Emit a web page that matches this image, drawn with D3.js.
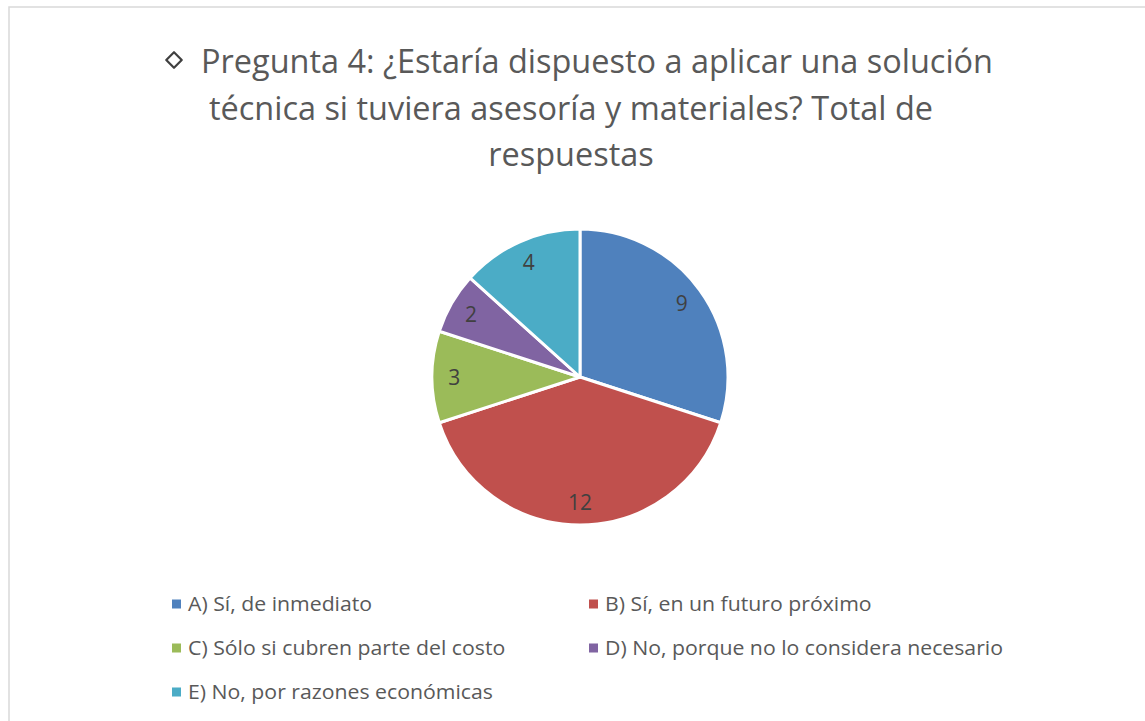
<!DOCTYPE html>
<html>
<head>
<meta charset="utf-8">
<script src="https://cdn.jsdelivr.net/npm/d3@7"></script>
<style>
  body { margin: 0; background: #fff; }
  svg { display: block; }
</style>
</head>
<body>
<div id="chart"></div>
<script>
const width = 1145;
const height = 721;

// data
const categories = [
  'A) Sí, de inmediato',
  'B) Sí, en un futuro próximo',
  'C) Sólo si cubren parte del costo',
  'D) No, porque no lo considera necesario',
  'E) No, por razones económicas'
];
const values = [9, 12, 3, 2, 4];
const colors = ['#4F81BD', '#C0504D', '#9BBB59', '#8064A2', '#4BACC6'];
const titleLines = [
  'Pregunta 4: ¿Estaría dispuesto a aplicar una solución',
  'técnica si tuviera asesoría y materiales? Total de',
  'respuestas'
];

const font = "'Open Sans', 'Noto Sans', sans-serif";
const textColor = '#595959';

const svg = d3.select('#chart')
  .append('svg')
  .attr('width', width)
  .attr('height', height);

svg.append('rect')
  .attr('x', 9)
  .attr('y', 7)
  .attr('width', width + 20)
  .attr('height', height + 20)
  .attr('fill', '#fff')
  .attr('stroke', '#d9d9d9')
  .attr('stroke-width', 1.5);

// title, condensed to the width of the original (Calibri is narrow)
const titleX = [597, 571, 571];
const titleY = [73, 120, 166];
const title = svg.append('g')
  .attr('font-family', font)
  .attr('font-size', 33)
  .attr('fill', textColor);

const tl = title.selectAll('text')
  .data(titleLines)
  .join('text')
    .attr('x', (d, i) => titleX[i])
    .attr('y', (d, i) => titleY[i])
    .attr('text-anchor', 'middle')
    .text(d => d);

const k = 792 / tl.node().getComputedTextLength();
tl.each(function() {
  const w = this.getComputedTextLength();
  d3.select(this).attr('textLength', w * k).attr('lengthAdjust', 'spacingAndGlyphs');
});

// diamond bullet in front of the title
svg.append('path')
  .attr('d', d3.symbol(d3.symbolSquare, 120)())
  .attr('transform', 'translate(174,60) rotate(45)')
  .attr('fill', 'none')
  .attr('stroke', '#404040')
  .attr('stroke-width', 2.2)
  .attr('stroke-linejoin', 'round');

// pie
const cx = 580, cy = 377, r = 148;
const pie = d3.pie().sort(null).value(d => d);
const arc = d3.arc().innerRadius(0).outerRadius(r);
const labelArc = d3.arc().innerRadius(r * 0.85).outerRadius(r * 0.85);

const g = svg.append('g').attr('transform', `translate(${cx},${cy})`);

g.selectAll('path')
  .data(pie(values))
  .join('path')
    .attr('d', arc)
    .attr('fill', (d, i) => colors[i])
    .attr('stroke', '#fff')
    .attr('stroke-width', 3)
    .attr('stroke-linejoin', 'round');

g.selectAll('text')
  .data(pie(values))
  .join('text')
    .attr('transform', d => `translate(${labelArc.centroid(d)})`)
    .attr('text-anchor', 'middle')
    .attr('dy', '0.36em')
    .attr('font-family', font)
    .attr('font-size', 21)
    .attr('fill', '#404040')
    .text(d => d.data);

// legend
const legX = [172, 589];
const legY = [604, 648, 692];
const legend = svg.append('g')
  .attr('font-family', font)
  .attr('font-size', 19.5)
  .attr('fill', textColor);

const item = legend.selectAll('g')
  .data(categories)
  .join('g')
    .attr('transform', (d, i) => `translate(${legX[i % 2]},${legY[Math.floor(i / 2)]})`);

item.append('rect')
  .attr('x', 0)
  .attr('y', -4.5)
  .attr('width', 9)
  .attr('height', 9)
  .attr('fill', (d, i) => colors[i]);

const lt = item.append('text')
  .attr('x', 16)
  .attr('y', 0)
  .attr('dy', '0.36em')
  .text(d => d);

const k2 = 398 / lt.nodes()[3].getComputedTextLength();
lt.each(function() {
  const w = this.getComputedTextLength();
  d3.select(this).attr('textLength', w * k2).attr('lengthAdjust', 'spacingAndGlyphs');
});
</script>
</body>
</html>
